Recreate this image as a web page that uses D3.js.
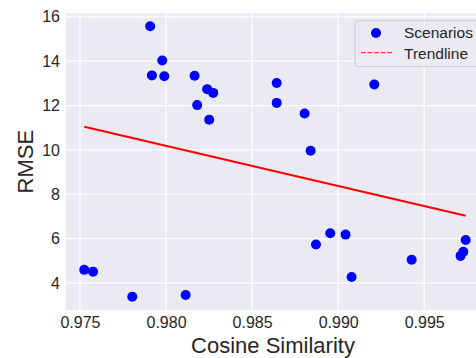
<!DOCTYPE html>
<html>
<head>
    <meta charset="utf-8">
    <title>RMSE vs Cosine Similarity</title>
    <style>
        body { margin: 0; background: #fff; }
        text { font-family: "Liberation Sans", Arial, sans-serif; fill: #262626; }
        .grid line { stroke: #fff; stroke-width: 1.2px; }
    </style>
</head>
<body>
<script src="https://cdnjs.cloudflare.com/ajax/libs/d3/7.8.5/d3.min.js"></script>
<script>
    // Scenario points
    const cosineSim = [
        0.97908, 0.97978, 0.97918, 0.97990, 0.98166, 0.98239, 0.98274, 0.98181,
        0.98251, 0.98643, 0.98643, 0.98805, 0.98840, 0.99210, 0.97525, 0.97576,
        0.97804, 0.98114, 0.98871, 0.98954, 0.99043, 0.99078, 0.99427, 0.99711,
        0.99727, 0.99741
    ];
    const rmse = [
        15.58, 14.03, 13.36, 13.32, 13.34, 12.74, 12.57, 12.02,
        11.36, 13.02, 12.12, 11.64, 9.96, 12.95, 4.59, 4.51,
        3.38, 3.46, 5.73, 6.24, 6.18, 4.27, 5.05, 5.22,
        5.41, 5.94
    ];

    // Trendline end points
    const trendX = [0.97525, 0.99741];
    const trendY = [11.04, 7.03];

    const xTicks = [0.975, 0.980, 0.985, 0.990, 0.995];
    const yTicks = [4, 6, 8, 10, 12, 14, 16];

    const width = 476, height = 358;
    const plot = {left: 66, right: 480, top: 13.3, bottom: 310};

    const svg = d3.select("body").append("svg")
        .attr("width", width)
        .attr("height", height);

    const x = d3.scaleLinear().domain([0.97419, 0.99824]).range([plot.left, plot.right]);
    const y = d3.scaleLinear().domain([2.78, 16.16]).range([plot.bottom, plot.top]);

    // Background
    svg.append("rect")
        .attr("x", plot.left)
        .attr("y", plot.top)
        .attr("width", plot.right - plot.left)
        .attr("height", plot.bottom - plot.top)
        .attr("fill", "#eaeaf2");

    // Grid lines
    const grid = svg.append("g").attr("class", "grid");
    grid.selectAll("line.vx")
        .data(xTicks)
        .enter().append("line")
        .attr("x1", d => x(d)).attr("x2", d => x(d))
        .attr("y1", plot.top).attr("y2", plot.bottom);
    grid.selectAll("line.hy")
        .data(yTicks)
        .enter().append("line")
        .attr("x1", plot.left).attr("x2", plot.right)
        .attr("y1", d => y(d)).attr("y2", d => y(d));

    // Axes (tick labels only, no domain or tick marks)
    const xAxis = svg.append("g")
        .attr("transform", `translate(0,${plot.bottom})`)
        .call(d3.axisBottom(x).tickValues(xTicks).tickFormat(d3.format(".3f")).tickSize(0).tickPadding(7));
    const yAxis = svg.append("g")
        .attr("transform", `translate(${plot.left},0)`)
        .call(d3.axisLeft(y).tickValues(yTicks).tickFormat(d3.format("d")).tickSize(0).tickPadding(6));
    [xAxis, yAxis].forEach(a => {
        a.select(".domain").remove();
        a.selectAll("text")
            .attr("font-size", 16)
            .attr("font-family", null)
            .attr("fill", "#262626");
    });

    // Axis titles
    svg.append("text")
        .attr("x", (plot.left + plot.right) / 2)
        .attr("y", 353)
        .attr("text-anchor", "middle")
        .attr("font-size", 22)
        .text("Cosine Similarity");
    svg.append("text")
        .attr("transform", `translate(33,${(plot.top + plot.bottom) / 2}) rotate(-90)`)
        .attr("text-anchor", "middle")
        .attr("font-size", 22)
        .text("RMSE");

    // Trendline
    svg.append("line")
        .attr("x1", x(trendX[0])).attr("y1", y(trendY[0]))
        .attr("x2", x(trendX[1])).attr("y2", y(trendY[1]))
        .attr("stroke", "#ff0000")
        .attr("stroke-width", 2);

    // Scenario points
    const points = cosineSim.map((c, i) => ({c: c, r: rmse[i]}));
    svg.selectAll("circle.pt")
        .data(points)
        .enter().append("circle")
        .attr("class", "pt")
        .attr("cx", d => x(d.c))
        .attr("cy", d => y(d.r))
        .attr("r", 5)
        .attr("fill", "#0000ff");

    // Legend
    const legend = svg.append("g");
    legend.append("rect")
        .attr("x", 355).attr("y", 20.7)
        .attr("width", 140).attr("height", 46)
        .attr("rx", 3)
        .attr("fill", "#eaeaf2").attr("fill-opacity", 0.8)
        .attr("stroke", "#cccccc").attr("stroke-width", 1);
    legend.append("circle")
        .attr("cx", 376).attr("cy", 33)
        .attr("r", 5)
        .attr("fill", "#0000ff");
    legend.append("line")
        .attr("x1", 361).attr("x2", 392)
        .attr("y1", 52.7).attr("y2", 52.7)
        .attr("stroke", "#ff0000")
        .attr("stroke-width", 1)
        .attr("stroke-dasharray", "4.6,2");
    legend.append("text")
        .attr("x", 404).attr("y", 37.5)
        .attr("font-size", 15.5)
        .text("Scenarios");
    legend.append("text")
        .attr("x", 404).attr("y", 58.5)
        .attr("font-size", 15.5)
        .text("Trendline");
</script>
</body>
</html>
